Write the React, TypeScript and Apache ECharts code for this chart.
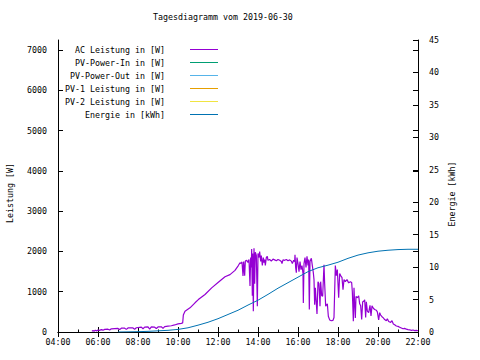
import React, { useEffect, useRef } from "react";
import * as echarts from "echarts";

const chartTitle = "Tagesdiagramm vom 2019-06-30";
const leftAxisName = "Leistung [W]";
const rightAxisName = "Energie [kWh]";

const seriesNames = [
  "AC Leistung in [W]",
  "PV-Power-In in [W]",
  "PV-Power-Out in [W]",
  "PV-1 Leistung in [W]",
  "PV-2 Leistung in [W]",
  "Energie in [kWh]",
];
const seriesColors = ["#9400d3", "#009e73", "#56b4e9", "#e69f00", "#f0e442", "#0072b2"];

const acTimes = [
  "05:42","05:45","05:48","05:52","05:56","06:00","06:05","06:10","06:15","06:20","06:30","06:35","06:40","06:50",
  "07:00","07:05","07:10","07:20","07:25","07:30","07:45","07:50","07:55","08:05","08:10","08:15","08:20","08:30",
  "08:35","08:40","08:50","08:55","09:00","09:10","09:15","09:20","09:30","09:40","09:50","10:00","10:10","10:14",
  "10:16","10:21","10:36","10:51","11:01","11:21","11:41","12:01","12:21","12:36","12:51","13:01","13:06","13:09",
  "13:12","13:15","13:17","13:20","13:22","13:26","13:30","13:33","13:36","13:38","13:40","13:41","13:43","13:44",
  "13:46","13:48","13:50","13:52","13:55","13:58","14:00","14:03","14:05","14:08","14:10","14:13","14:16","14:18",
  "14:20","14:22","14:25","14:28","14:30","14:35","14:40","14:45","14:50","14:55","15:00","15:05","15:10","15:12",
  "15:15","15:20","15:25","15:30","15:35","15:40","15:43","15:47","15:50","15:51","15:53","15:55","15:57","16:00",
  "16:03","16:06","16:09","16:12","16:15","16:16","16:18","16:21","16:24","16:27","16:30","16:32","16:34","16:36",
  "16:40","16:43","16:46","16:48","16:50","16:52","16:57","17:00","17:03","17:06","17:08","17:11","17:14","17:18",
  "17:20","17:23","17:26","17:28","17:31","17:35","17:40","17:45","17:48","17:52","17:55","17:58","18:02","18:05",
  "18:08","18:12","18:15","18:18","18:22","18:27","18:32","18:37","18:41","18:43","18:46","18:48","18:50","18:52",
  "18:54","18:58","19:02","19:05","19:08","19:11","19:14","19:17","19:20","19:23","19:25","19:28","19:32","19:36",
  "19:39","19:42","19:46","19:50","19:55","19:58","20:02","20:05","20:08","20:12","20:16","20:20","20:25","20:28",
  "20:32","20:38","20:42","20:46","20:50","20:55","21:00","21:05","21:10","21:15","21:20","21:25","21:30","21:35",
  "21:40","21:45","21:50","21:55","22:00",
];
const acWatts = [
  15,40,20,45,25,50,40,60,45,65,70,50,80,85,
  90,60,95,95,65,100,100,70,105,115,120,80,120,125,
  70,125,120,85,125,130,90,135,145,155,175,200,215,225,
  420,515,600,725,805,930,1095,1235,1370,1425,1530,1650,1720,1700,
  1740,1390,1750,1400,1760,1780,1730,1800,1140,1850,1600,2060,900,1950,
  515,2080,1200,1980,1900,640,1950,1850,2000,1750,1900,1650,1850,1720,
  1800,1650,1850,1880,1780,1800,1760,1810,1790,1770,1800,1780,1750,1700,
  1790,1780,1800,1770,1790,1760,1700,1780,1750,1920,1600,1470,1850,1700,
  1500,1750,1550,1650,1450,720,1700,1850,1600,1880,1650,1800,560,1750,
  1830,1650,1470,1300,680,1100,450,1250,1200,640,1250,900,890,1670,
  1200,640,680,700,390,300,280,290,360,1650,1400,1550,850,1450,
  1400,1350,1050,1300,1250,1300,1220,1250,1230,1000,270,1100,700,350,
  880,850,900,700,650,310,750,760,800,360,750,520,480,660,
  400,650,590,560,540,500,300,480,420,380,350,310,280,330,
  260,240,280,200,180,150,140,120,100,80,90,70,60,55,
  40,50,35,40,30,
];

const energyTimes = [
  "07:00","07:30","08:00","08:30","09:00","09:30","10:00","10:30","11:00","11:30","12:00","12:30","13:00","13:30",
  "14:00","14:30","15:00","15:30","16:00","16:30","17:00","17:30","18:00","18:30","19:00","19:30","20:00","20:30",
  "21:00","21:30","22:00",
];
const energyKWh = [
  0,0.02,0.05,0.1,0.18,0.26,0.4,0.65,1.05,1.5,2.05,2.7,3.35,4.15,
  4.9,5.8,6.75,7.6,8.45,9.3,9.9,10.3,10.75,11.35,11.85,12.2,12.45,12.6,
  12.7,12.75,12.75,
];

const toHours = (t: string) => {
  const [h, m] = t.split(":").map(Number);
  return h + m / 60;
};

const FONT = "'DejaVu Sans Mono', monospace";
const FS = 8.3;

export default function App() {
  const ref = useRef<HTMLDivElement>(null);
  useEffect(() => {
    if (!ref.current) return;
    const chart = echarts.init(ref.current, undefined, { renderer: "svg" });
    const txt = { fontFamily: FONT, fontSize: FS, color: "#000" };
    const axisLine = { show: true, lineStyle: { color: "#000", width: 1 } };
    const tick = { show: true, inside: true, length: 5, lineStyle: { color: "#000", width: 1 } };

    const acData = acTimes.map((t, i) => [toHours(t), acWatts[i]]);
    const enData = energyTimes.map((t, i) => [toHours(t), energyKWh[i]]);
    const dataFor = [acData, [], [], [], [], enData];

    chart.setOption({
      animation: false,
      backgroundColor: "#fff",
      title: {
        text: chartTitle,
        left: 153,
        top: 13,
        padding: 0,
        textStyle: { ...txt, fontWeight: "normal" },
      },
      legend: {
        orient: "vertical",
        right: 262,
        top: 43,
        padding: 0,
        itemGap: 0,
        itemWidth: 28,
        itemHeight: 1,
        icon: "rect",
        align: "right",
        selectedMode: false,
        data: seriesNames,
        textStyle: { ...txt, lineHeight: 13, padding: [0, 20, 0, 0] },
      },
      grid: { left: 58, right: 62, top: 40, bottom: 28 },
      xAxis: [
        {
          type: "value",
          min: 4,
          max: 22,
          interval: 2,
          position: "bottom",
          axisLine,
          axisTick: tick,
          minorTick: { show: true, splitNumber: 2, length: 2.5, lineStyle: { color: "#000", width: 1 } },
          splitLine: { show: false },
          axisLabel: {
            ...txt,
            margin: 6,
            formatter: (v: number) => String(v).padStart(2, "0") + ":00",
          },
        },
        {
          type: "value",
          min: 4,
          max: 22,
          interval: 2,
          position: "top",
          axisLine,
          axisTick: tick,
          splitLine: { show: false },
          axisLabel: { show: false },
        },
      ],
      yAxis: [
        {
          type: "value",
          min: 0,
          max: 7250,
          interval: 1000,
          position: "left",
          axisLine,
          axisTick: tick,
          splitLine: { show: false },
          axisLabel: { ...txt, margin: 11, showMaxLabel: false, formatter: (v: number) => String(v) },
        },
        {
          type: "value",
          min: 0,
          max: 45,
          interval: 5,
          position: "right",
          axisLine,
          axisTick: tick,
          splitLine: { show: false },
          axisLabel: { ...txt, margin: 11, formatter: (v: number) => String(v) },
        },
        {
          type: "value",
          min: 0,
          max: 7250,
          interval: 1000,
          position: "right",
          axisLine: { show: false },
          axisTick: tick,
          splitLine: { show: false },
          axisLabel: { show: false },
        },
      ],
      graphic: [
        {
          type: "text",
          x: 10,
          y: 193,
          rotation: Math.PI / 2,
          style: { text: leftAxisName, fontFamily: FONT, fontSize: FS, fill: "#000", align: "center", verticalAlign: "middle" },
        },
        {
          type: "text",
          x: 452,
          y: 194,
          rotation: Math.PI / 2,
          style: { text: rightAxisName, fontFamily: FONT, fontSize: FS, fill: "#000", align: "center", verticalAlign: "middle" },
        },
      ],
      series: seriesNames.map((name, i) => ({
        name,
        type: "line",
        xAxisIndex: 0,
        yAxisIndex: i === 5 ? 1 : 0,
        data: dataFor[i],
        showSymbol: false,
        symbol: "none",
        color: seriesColors[i],
        lineStyle: { color: seriesColors[i], width: i === 0 ? 1.2 : 1 },
        itemStyle: { color: seriesColors[i] },
      })),
    });
    return () => chart.dispose();
  }, []);
  return <div ref={ref} style={{ width: 480, height: 360, position: "absolute", left: 0, top: 0 }} />;
}
